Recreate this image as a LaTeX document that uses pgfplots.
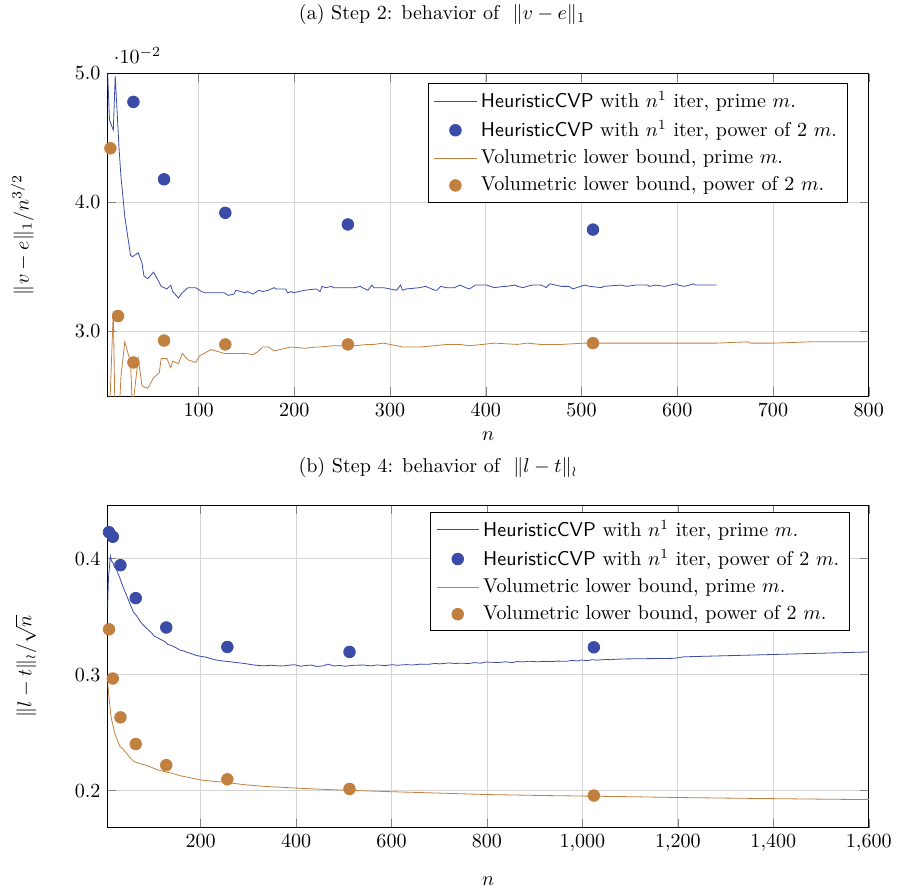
\documentclass[border=0pt]{standalone}
\usepackage{pgfplots}
\pgfplotsset{compat=1.18}
\definecolor{cvpblue}{RGB}{58,76,168}
\definecolor{volorange}{RGB}{194,128,64}

\begin{document}
\begin{tikzpicture}
\pgfplotsset{
  every axis/.append style={
    scale only axis, width=380pt, height=161pt,
    grid=major,
    major grid style={thin, black!17},
    legend cell align=left,
    legend style={row sep=1pt},
    legend image code/.code={\draw[mark repeat=2,mark phase=2,#1]
      plot coordinates {(0cm,0cm) (0.37cm,0cm) (0.74cm,0cm)};},
  },
  linestyle/.style={no markers, thin},
  dotstyle/.style={only marks, mark=*, mark size=2.9pt},
}

% (a) Step 2
\begin{axis}[
  xmin=5, xmax=800, ymin=0.025, ymax=0.05,
  xtick={100,200,...,800},
  ytick={0.03,0.04,0.05},
  scaled y ticks=base 10:2,
  yticklabel style={/pgf/number format/fixed,/pgf/number format/fixed zerofill,/pgf/number format/precision=1},
  xlabel={$n$}, ylabel={$\|v-e\|_1/n^{3/2}$},
  every axis x label/.style={at={(axis description cs:0.5,-0.124)},anchor=center,inner sep=0pt},
  every axis y label/.style={at={(axis description cs:-0.112,0.5)},rotate=90,anchor=center,inner sep=0pt},
  title={(a) Step 2: behavior of \ $\|v-e\|_1$},
  every axis title/.style={at={(axis description cs:0.44,1.183)},anchor=center,inner sep=0pt},
  legend style={at={(0.972,0.971)},anchor=north east},
]
\addplot[linestyle, cvpblue] coordinates {
(5,0.0502) (7,0.0464) (11,0.0456) (13,0.0498) (17,0.0442) (19,0.0420)
(23,0.0389) (29,0.0359) (31,0.0358) (37,0.0361) (41,0.0353) (43,0.0343)
(47,0.0341) (53,0.0346) (59,0.0338) (61,0.0335) (67,0.0333) (71,0.0336)
(73,0.0331) (79,0.0326) (83,0.0330) (89,0.0334) (97,0.0334) (101,0.0332)
(103,0.0331) (107,0.0330) (109,0.0330) (113,0.0330) (127,0.0330) (131,0.0328)
(137,0.0329) (139,0.0332) (149,0.0330) (151,0.0331) (157,0.0329) (163,0.0332)
(167,0.0331) (173,0.0332) (179,0.0334) (181,0.0333) (191,0.0333) (193,0.0330)
(197,0.0331) (199,0.0330) (211,0.0332) (223,0.0333) (227,0.0331) (229,0.0335)
(233,0.0334) (239,0.0335) (241,0.0334) (251,0.0334) (257,0.0334) (263,0.0334)
(269,0.0335) (271,0.0334) (277,0.0332) (281,0.0336) (283,0.0334) (293,0.0334)
(307,0.0332) (311,0.0336) (313,0.0332) (317,0.0333) (331,0.0334) (337,0.0335)
(347,0.0332) (349,0.0332) (353,0.0335) (359,0.0334) (367,0.0334) (373,0.0336)
(379,0.0334) (383,0.0333) (389,0.0336) (397,0.0336) (401,0.0336) (409,0.0334)
(419,0.0335) (421,0.0335) (431,0.0336) (433,0.0335) (439,0.0334) (443,0.0335)
(449,0.0336) (457,0.0336) (461,0.0335) (463,0.0334) (467,0.0337) (479,0.0335)
(487,0.0335) (491,0.0333) (499,0.0335) (503,0.0336) (509,0.0335) (521,0.0334)
(523,0.0335) (541,0.0336) (547,0.0335) (557,0.0336) (563,0.0336) (569,0.0336)
(571,0.0335) (577,0.0336) (587,0.0335) (593,0.0336) (599,0.0337) (601,0.0336)
(607,0.0335) (613,0.0336) (617,0.0337) (619,0.0336) (631,0.0336) (641,0.0336)
};
\addlegendentry{\textsf{HeuristicCVP} with $n^1$ iter, prime $m$.}
\addplot[dotstyle, cvpblue] coordinates {
(32,0.0478) (64,0.0418) (128,0.0392) (256,0.0383) (512,0.0379)
};
\addlegendentry{\textsf{HeuristicCVP} with $n^1$ iter, power of 2 $m$.}
\addplot[linestyle, volorange] coordinates {
(5,0.0225) (7,0.0235) (11,0.0316) (13,0.0225) (17,0.0235) (19,0.0265)
(23,0.0292) (29,0.0276) (31,0.0240) (37,0.0279) (41,0.0258) (43,0.0257)
(47,0.0256) (53,0.0264) (59,0.0268) (61,0.0279) (67,0.0279) (71,0.0272)
(73,0.0277) (79,0.0275) (83,0.0283) (89,0.0278) (97,0.0276) (101,0.0281)
(113,0.0286) (127,0.0283) (131,0.0283) (137,0.0283) (149,0.0283) (157,0.0282)
(163,0.0285) (167,0.0288) (173,0.0288) (179,0.0285) (191,0.0287) (197,0.0288)
(211,0.0287) (223,0.0288) (227,0.0288) (241,0.0289) (251,0.0289) (263,0.0289)
(277,0.0290) (283,0.0290) (293,0.0291) (307,0.0289) (313,0.0288) (331,0.0288)
(347,0.0289) (359,0.0290) (373,0.0290) (383,0.0289) (397,0.0290) (409,0.0291)
(433,0.0290) (443,0.0291) (457,0.0290) (479,0.0290) (503,0.0291) (541,0.0291)
(571,0.0291) (601,0.0291) (641,0.0291) (673,0.0292) (677,0.0291) (701,0.0291)
(739,0.0292) (769,0.0292) (797,0.0292) (809,0.0292)
};
\addlegendentry{Volumetric lower bound, prime $m$.}
\addplot[dotstyle, volorange] coordinates {
(8,0.0442) (16,0.0312) (32,0.0276) (64,0.0293) (128,0.0290) (256,0.0290) (512,0.0291)
};
\addlegendentry{Volumetric lower bound, power of 2 $m$.}
\end{axis}

% (b) Step 4
\begin{axis}[
  at={(0pt,-215.5pt)},
  xmin=5, xmax=1600, ymin=0.168, ymax=0.446,
  xtick={200,400,...,1600},
  ytick={0.2,0.3,0.4},
  xlabel={$n$}, ylabel={$\|l-t\|_\wr/\sqrt{n}$},
  every axis x label/.style={at={(axis description cs:0.5,-0.165)},anchor=center,inner sep=0pt},
  every axis y label/.style={at={(axis description cs:-0.107,0.5)},rotate=90,anchor=center,inner sep=0pt},
  title={(b) Step 4: behavior of \ $\|l-t\|_\wr$},
  every axis title/.style={at={(axis description cs:0.434,1.117)},anchor=center,inner sep=0pt},
  legend style={at={(0.975,0.98)},anchor=north east},
]
\addplot[linestyle, cvpblue] coordinates {
(5,0.357) (7,0.384) (11,0.402) (13,0.398) (17,0.396) (19,0.393) (23,0.391)
(29,0.385) (31,0.383) (37,0.376) (41,0.372) (43,0.370) (47,0.366) (53,0.360)
(59,0.354) (67,0.350) (73,0.346) (79,0.343) (89,0.339) (97,0.336) (103,0.333)
(109,0.332) (113,0.331) (127,0.328) (131,0.326) (139,0.325) (149,0.323)
(157,0.321) (163,0.3205) (173,0.319) (181,0.318) (191,0.3165) (199,0.3158)
(211,0.3150) (223,0.3135) (233,0.3125) (241,0.3120) (251,0.3115) (263,0.3110)
(271,0.3105) (283,0.3100) (293,0.3095) (307,0.3085) (317,0.3080) (331,0.3075)
(347,0.3080) (359,0.3076) (373,0.3074) (383,0.3080) (397,0.3085) (409,0.3072)
(421,0.3078) (433,0.3082) (443,0.3070) (457,0.3075) (467,0.3090) (479,0.3074)
(491,0.3078) (503,0.3072) (521,0.3080) (541,0.3082) (557,0.3075) (571,0.3083)
(587,0.3077) (601,0.3085) (613,0.3080) (631,0.3086) (643,0.3082) (661,0.3090)
(677,0.3088) (691,0.3096) (701,0.3092) (719,0.3100) (733,0.3096) (751,0.3098)
(761,0.3094) (773,0.3103) (787,0.3098) (797,0.3108) (809,0.3106) (823,0.3104)
(839,0.3110) (853,0.3103) (863,0.3112) (877,0.3109) (887,0.3115) (907,0.3110)
(919,0.3114) (937,0.3112) (947,0.3116) (967,0.3114) (977,0.3122) (991,0.3117)
(997,0.3126) (1009,0.3120) (1021,0.3128) (1031,0.3124) (1049,0.3130)
(1061,0.3128) (1069,0.3132) (1093,0.3135) (1193,0.3140) (1213,0.3153)
(1409,0.3174) (1601,0.3195)
};
\addlegendentry{\textsf{HeuristicCVP} with $n^1$ iter, prime $m$.}
\addplot[dotstyle, cvpblue] coordinates {
(8,0.4227) (16,0.4188) (32,0.3943) (64,0.3659) (128,0.3406) (256,0.3238) (512,0.3195) (1024,0.3235)
};
\addlegendentry{\textsf{HeuristicCVP} with $n^1$ iter, power of 2 $m$.}
\addplot[linestyle, volorange] coordinates {
(5,0.2943) (7,0.285) (11,0.268) (13,0.262) (17,0.255) (19,0.251) (23,0.246)
(29,0.240) (31,0.238) (37,0.236) (41,0.234) (47,0.231) (53,0.228) (59,0.2255)
(67,0.224) (73,0.2232) (83,0.2222) (97,0.2200) (109,0.2180) (127,0.2160)
(139,0.2150) (157,0.2128) (179,0.2110) (199,0.2092) (227,0.2080) (257,0.2068)
(293,0.2050) (331,0.2037) (397,0.2022) (449,0.2012) (503,0.2003) (601,0.1990)
(701,0.1978) (797,0.1966) (907,0.1958) (1009,0.1952) (1103,0.1947) (1201,0.1940)
(1301,0.1935) (1409,0.1930) (1499,0.1926) (1601,0.1922)
};
\addlegendentry{Volumetric lower bound, prime $m$.}
\addplot[dotstyle, volorange] coordinates {
(8,0.3390) (16,0.2966) (32,0.2631) (64,0.2401) (128,0.2219) (256,0.2097) (512,0.2014) (1024,0.1957)
};
\addlegendentry{Volumetric lower bound, power of 2 $m$.}
\end{axis}

% page margins as in the reference
\path (-53.7pt,197.7pt) (396.6pt,-247.1pt);
\end{tikzpicture}
\end{document}
